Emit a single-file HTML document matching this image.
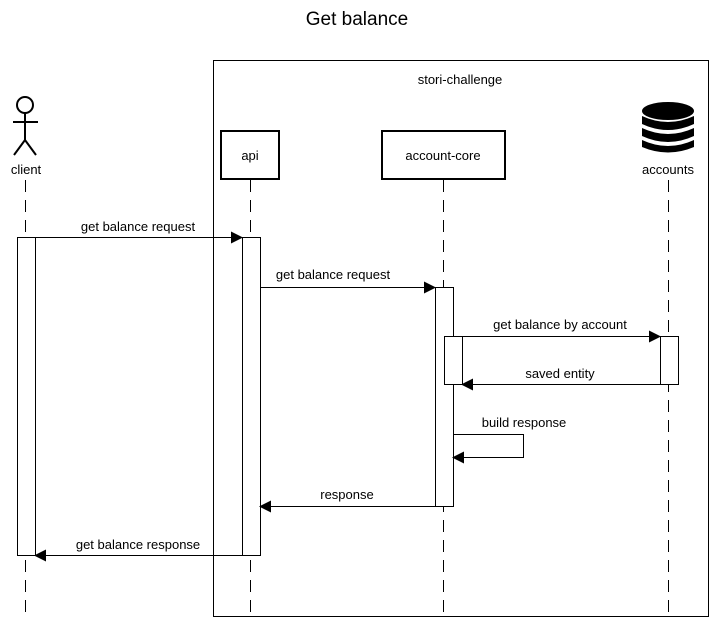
<!DOCTYPE html>
<html><head><meta charset="utf-8"><style>body{margin:0;background:#fff}svg{display:block}</style></head>
<body>
<svg width="714" height="626" viewBox="0 0 714 626" xmlns="http://www.w3.org/2000/svg" font-family="Liberation Sans, Arial, sans-serif" font-size="13">
<defs><marker id="a" markerWidth="12" markerHeight="12" refX="11" refY="6" orient="auto" markerUnits="userSpaceOnUse"><path d="M0,0 L12,6 L0,12 z" fill="#000"/></marker></defs>
<rect width="714" height="626" fill="#fff"/>
<text x="357" y="25" font-size="19" text-anchor="middle">Get balance</text>
<rect x="213.5" y="60.5" width="495" height="556" fill="none" stroke="#000"/>
<text x="460" y="84" text-anchor="middle">stori-challenge</text>
<g stroke="#000" stroke-dasharray="12,8" fill="none">
<line x1="25.5" y1="180" x2="25.5" y2="616"/>
<line x1="250.5" y1="180" x2="250.5" y2="616"/>
<line x1="443.5" y1="180" x2="443.5" y2="616"/>
<line x1="668.5" y1="180" x2="668.5" y2="616"/>
</g>
<g stroke="#000" stroke-width="2" fill="none">
<circle cx="25" cy="105" r="8"/>
<line x1="25" y1="113" x2="25" y2="140"/>
<line x1="13" y1="122" x2="38" y2="122"/>
<line x1="25" y1="140" x2="14" y2="155"/>
<line x1="25" y1="140" x2="36" y2="155"/>
</g>
<text x="26" y="174" text-anchor="middle">client</text>
<rect x="221" y="131" width="58" height="48" fill="#fff" stroke="#000" stroke-width="2"/>
<text x="250" y="160" text-anchor="middle">api</text>
<rect x="382" y="131" width="123" height="48" fill="#fff" stroke="#000" stroke-width="2"/>
<text x="443" y="160" text-anchor="middle">account-core</text>
<g fill="#000">
<ellipse cx="668" cy="111" rx="26" ry="9"/>
<path d="M642,116 Q668,128 694,116 L694,124 Q668,136 642,124 z"/>
<path d="M642,128 Q668,140 694,128 L694,136 Q668,148 642,136 z"/>
<path d="M642,140 Q668,152 694,140 L694,147 Q668,158 642,147 z"/>
</g>
<text x="668" y="174" text-anchor="middle">accounts</text>
<g fill="#fff" stroke="#000">
<rect x="17.5" y="237.5" width="18" height="318"/>
<rect x="242.5" y="237.5" width="18" height="318"/>
<rect x="435.5" y="287.5" width="18" height="219"/>
<rect x="444.5" y="336.5" width="18" height="48"/>
<rect x="660.5" y="336.5" width="18" height="48"/>
</g>
<g stroke="#000" fill="none" marker-end="url(#a)">
<line x1="35" y1="237.5" x2="242" y2="237.5"/>
<line x1="260" y1="287.5" x2="435" y2="287.5"/>
<line x1="462" y1="336.5" x2="660" y2="336.5"/>
<line x1="660" y1="384.5" x2="462" y2="384.5"/>
<path d="M453,434.5 H523.5 V457.5 H453"/>
<line x1="435" y1="506.5" x2="260" y2="506.5"/>
<line x1="242" y1="555.5" x2="35" y2="555.5"/>
</g>
<text x="138" y="231" text-anchor="middle">get balance request</text>
<text x="333" y="279" text-anchor="middle">get balance request</text>
<text x="560" y="329" text-anchor="middle">get balance by account</text>
<text x="560" y="378" text-anchor="middle">saved entity</text>
<text x="524" y="427" text-anchor="middle">build response</text>
<text x="347" y="499" text-anchor="middle">response</text>
<text x="138" y="549" text-anchor="middle">get balance response</text>
</svg>
</body></html>
